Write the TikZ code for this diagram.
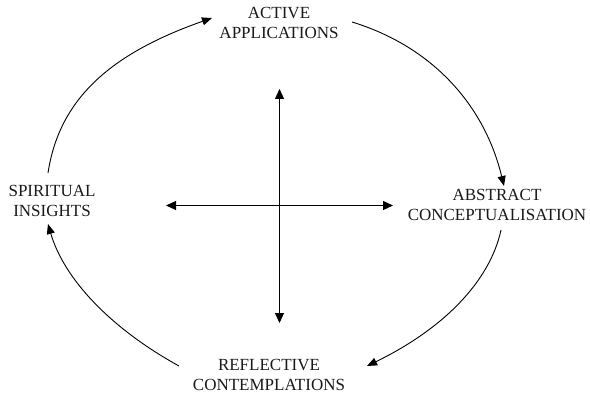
\documentclass[tikz,border=0pt]{standalone}
\usepackage{fontspec}
\setmainfont{Liberation Serif}
\usetikzlibrary{arrows.meta}
\begin{document}
\begin{tikzpicture}[x=1pt,y=-1pt,
  label/.style={align=center,inner sep=0pt,text=black!90,font=\fontsize{17}{20}\selectfont},
  cyclearrow/.style={line width=0.9pt,-{Triangle[length=10pt,width=8pt]}},
  axisarrow/.style={line width=1.1pt,{Triangle[length=10pt,width=9pt]}-{Triangle[length=10pt,width=9pt]}}]
\useasboundingbox (0,0) rectangle (590,396);

% the four stages
\node[label] (active)  at (279,23)    {ACTIVE\\APPLICATIONS};
\node[label] (abstract) at (497,204.5) {ABSTRACT\\CONCEPTUALISATION};
\node[label] (reflect) at (269,375)   {REFLECTIVE\\CONTEMPLATIONS};
\node[label] (spirit)  at (52,201.3)  {SPIRITUAL\\INSIGHTS};

% end points of the cycle arcs
\coordinate (s1) at (48,173);  \coordinate (e1) at (212,18);
\coordinate (s2) at (352,22);  \coordinate (e2) at (504,186);
\coordinate (s3) at (501,230); \coordinate (e3) at (367,366);
\coordinate (s4) at (179,366); \coordinate (e4) at (48,224);

\draw[cyclearrow] (s1) .. controls (58.9,101.2) and (107.3,54.7) .. (e1);
\draw[cyclearrow] (s2) .. controls (430.9,46.1) and (484.1,103.7) .. (e2);
\draw[cyclearrow] (s3) .. controls (489.8,281.7) and (443,329.1) .. (e3);
\draw[cyclearrow] (s4) .. controls (109.7,327.8) and (63.9,278.4) .. (e4);

% central cross
\coordinate (up) at (279.5,89);
\coordinate (down) at (279.5,323);
\coordinate (left) at (166,205.5);
\coordinate (right) at (393,205.5);
\draw[axisarrow] (down) -- (up);
\draw[axisarrow] (left) -- (right);
\end{tikzpicture}
\end{document}
